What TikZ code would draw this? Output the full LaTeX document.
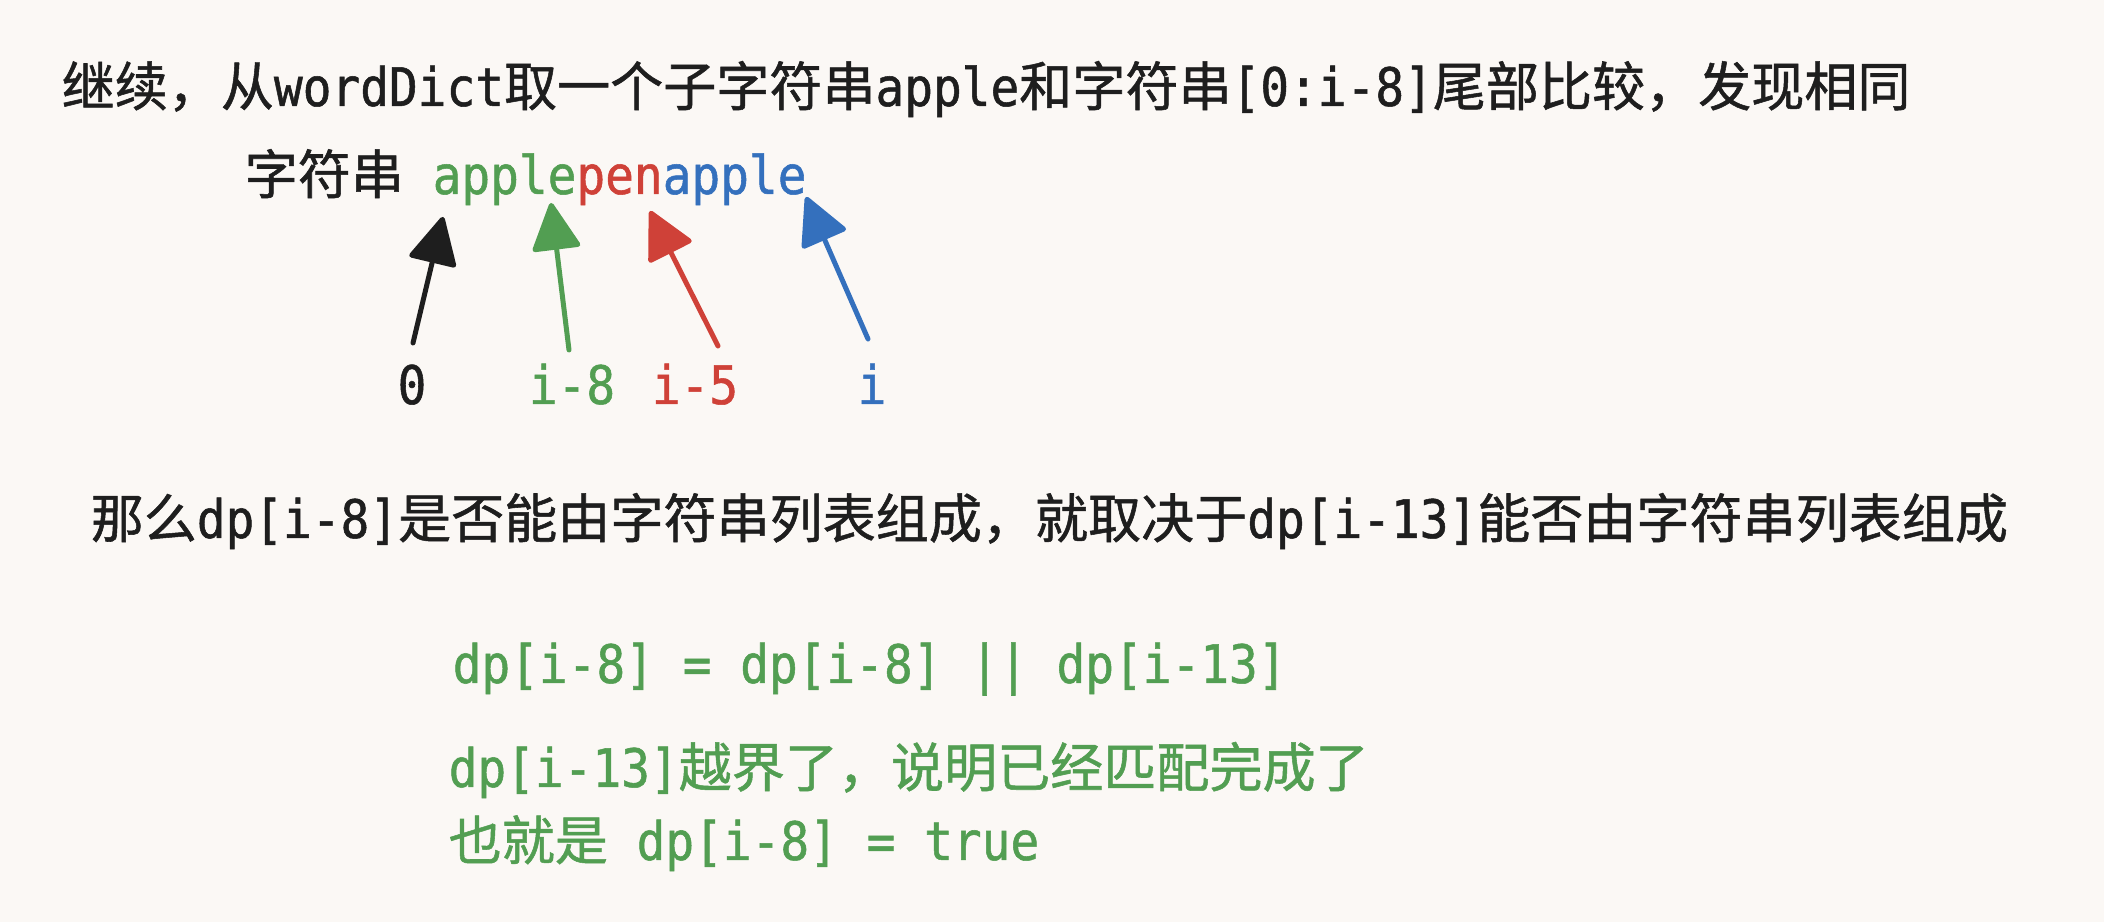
\documentclass[tikz,border=0pt]{standalone}
\usepackage{fontspec}
\usetikzlibrary{arrows.meta}
\setmainfont[FakeStretch=0.9, FakeBold=1]{DejaVu Sans Mono}
\newfontfamily\cjk[FakeBold=1]{Noto Sans CJK SC}
\newcommand{\zh}[1]{{\cjk #1}}
\definecolor{paper}{HTML}{FBF8F5}
\definecolor{blk}{HTML}{1E1E1E}
\definecolor{grn}{HTML}{529E52}
\definecolor{rd}{HTML}{CF4138}
\definecolor{blu}{HTML}{3470BD}
\tikzset{
    txt/.style={inner sep=0pt, anchor=base west, font=\fontsize{15.1}{18}\selectfont},
    lbl/.style={inner sep=0pt, anchor=base, font=\fontsize{15.1}{18}\selectfont},
    ptr/.style={line width=0.05cm, line cap=round, line join=round, -{Triangle[length=0.5cm, width=0.5cm, round]}}
}
\begin{document}
\begin{tikzpicture}
        \fill [paper] (0,0) rectangle (21.04,9.22);
        \useasboundingbox (0,0) rectangle (21.04,9.22);

        % text lines
        \node [txt, text=blk] (head) at (0.61,8.16) {\zh{继续，从}wordDict\zh{取一个子字符串}apple\zh{和字符串}[0:i-8]\zh{尾部比较，发现相同}};
        \node [txt, text=blk] (str) at (2.44,7.28) {\zh{字符串} \textcolor{grn}{apple}\textcolor{rd}{pen}\textcolor{blu}{apple}};

        % index labels
        \node [lbl, text=blk] (l0) at (4.12,5.18) {0};
        \node [lbl, text=grn] (l8) at (5.72,5.18) {i-8};
        \node [lbl, text=rd] (l5) at (6.95,5.18) {i-5};
        \node [lbl, text=blu] (li) at (8.72,5.18) {i};

        % arrows
        \coordinate (t0) at (4.13,5.79);
        \coordinate (h0) at (4.43,7.05);
        \coordinate (t8) at (5.69,5.72);
        \coordinate (h8) at (5.51,7.19);
        \coordinate (t5) at (7.18,5.76);
        \coordinate (h5) at (6.50,7.11);
        \coordinate (ti) at (8.68,5.83);
        \coordinate (hi) at (8.06,7.25);
        \foreach \n/\c in {0/blk, 8/grn, 5/rd, i/blu}
        {
            \draw [ptr, draw=\c, fill=\c] (t\n) -- (h\n);
        }

        \node [txt, text=blk] (why) at (0.90,3.84) {\zh{那么}dp[i-8]\zh{是否能由字符串列表组成，就取决于}dp[i-13]\zh{能否由字符串列表组成}};

        % result
        \node [txt, text=grn] (eq) at (4.52,2.39) {dp[i-8] = dp[i-8] || dp[i-13]};
        \node [txt, text=grn] (out) at (4.48,1.35) {dp[i-13]\zh{越界了，说明已经匹配完成了}};
        \node [txt, text=grn] (res) at (4.48,0.62) {\zh{也就是} dp[i-8] = true};
\end{tikzpicture}
\end{document}
